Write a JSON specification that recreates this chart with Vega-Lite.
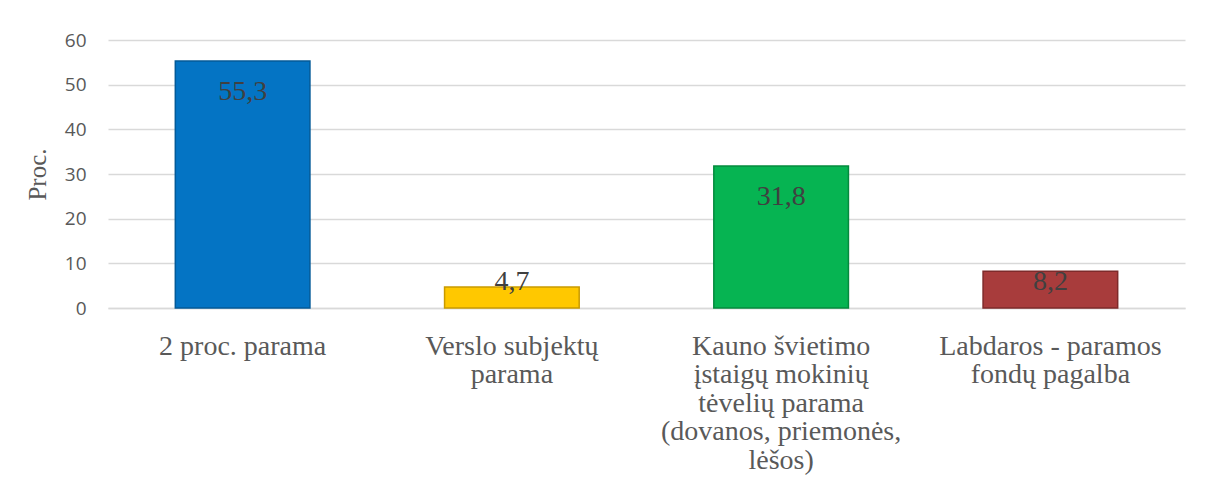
{
  "$schema": "https://vega.github.io/schema/vega-lite/v6.json",
  "autosize": {"type": "none"},
  "padding": {"left": 108, "top": 40, "right": 32, "bottom": 196},
  "width": 1077,
  "height": 268,
  "background": "white",
  "config": {"view": {"stroke": null}},
  "data": {
    "values": [
      {"cat": "2 proc. parama", "value": 55.3, "label": "55,3"},
      {"cat": "Verslo subjektų|parama", "value": 4.7, "label": "4,7"},
      {"cat": "Kauno švietimo|įstaigų mokinių|tėvelių parama|(dovanos, priemonės,|lėšos)", "value": 31.8, "label": "31,8"},
      {"cat": "Labdaros - paramos|fondų pagalba", "value": 8.2, "label": "8,2"}
    ]
  },
  "encoding": {
    "x": {
      "field": "cat", "type": "nominal", "sort": null,
      "scale": {"paddingInner": 0.5, "paddingOuter": 0.25},
      "axis": {
        "title": null, "labelAngle": 0, "labelExpr": "split(datum.label, '|')",
        "labelFont": "Liberation Serif", "labelFontSize": 28, "labelLineHeight": 28.5,
        "labelColor": "#595959", "labelPadding": 24, "ticks": false,
        "domainColor": "#D9D9D9", "domainWidth": 1.5, "labelLimit": 400
      }
    }
  },
  "layer": [
    {
      "mark": {"type": "bar", "strokeWidth": 1.5},
      "encoding": {
        "y": {
          "field": "value", "type": "quantitative",
          "scale": {"domain": [0, 60]},
          "axis": {
            "values": [0, 10, 20, 30, 40, 50, 60], "title": "Proc.",
            "titleFont": "Liberation Serif", "titleFontSize": 25, "titleFontWeight": "normal",
            "titleColor": "#595959", "titleAngle": 270, "titleX": -71, "titleY": 134,
            "titleAlign": "center", "titleBaseline": "middle",
            "labelFont": "Open Sans", "labelFontSize": 19, "labelColor": "#595959",
            "labelPadding": 22, "ticks": false, "domain": false,
            "gridColor": "#D9D9D9", "gridWidth": 1.5
          }
        },
        "color": {
          "field": "cat", "type": "nominal", "legend": null,
          "scale": {
            "domain": ["2 proc. parama", "Verslo subjektų|parama", "Kauno švietimo|įstaigų mokinių|tėvelių parama|(dovanos, priemonės,|lėšos)", "Labdaros - paramos|fondų pagalba"],
            "range": ["#0474C4", "#FFC800", "#06B452", "#A83C3C"]
          }
        },
        "stroke": {
          "field": "cat", "type": "nominal", "legend": null,
          "scale": {
            "domain": ["2 proc. parama", "Verslo subjektų|parama", "Kauno švietimo|įstaigų mokinių|tėvelių parama|(dovanos, priemonės,|lėšos)", "Labdaros - paramos|fondų pagalba"],
            "range": ["#035A98", "#C99A00", "#048A3E", "#7E2A2A"]
          }
        }
      }
    },
    {
      "transform": [{"filter": "datum.value > 10"}],
      "mark": {"type": "text", "font": "Liberation Serif", "fontSize": 28, "color": "#404040", "baseline": "middle", "dy": 31},
      "encoding": {
        "y": {"field": "value", "type": "quantitative"},
        "text": {"field": "label"}
      }
    },
    {
      "transform": [{"filter": "datum.value <= 10"}],
      "mark": {"type": "text", "font": "Liberation Serif", "fontSize": 28, "color": "#404040", "baseline": "middle"},
      "encoding": {
        "y": {"datum": 5.8, "type": "quantitative"},
        "text": {"field": "label"}
      }
    }
  ]
}
